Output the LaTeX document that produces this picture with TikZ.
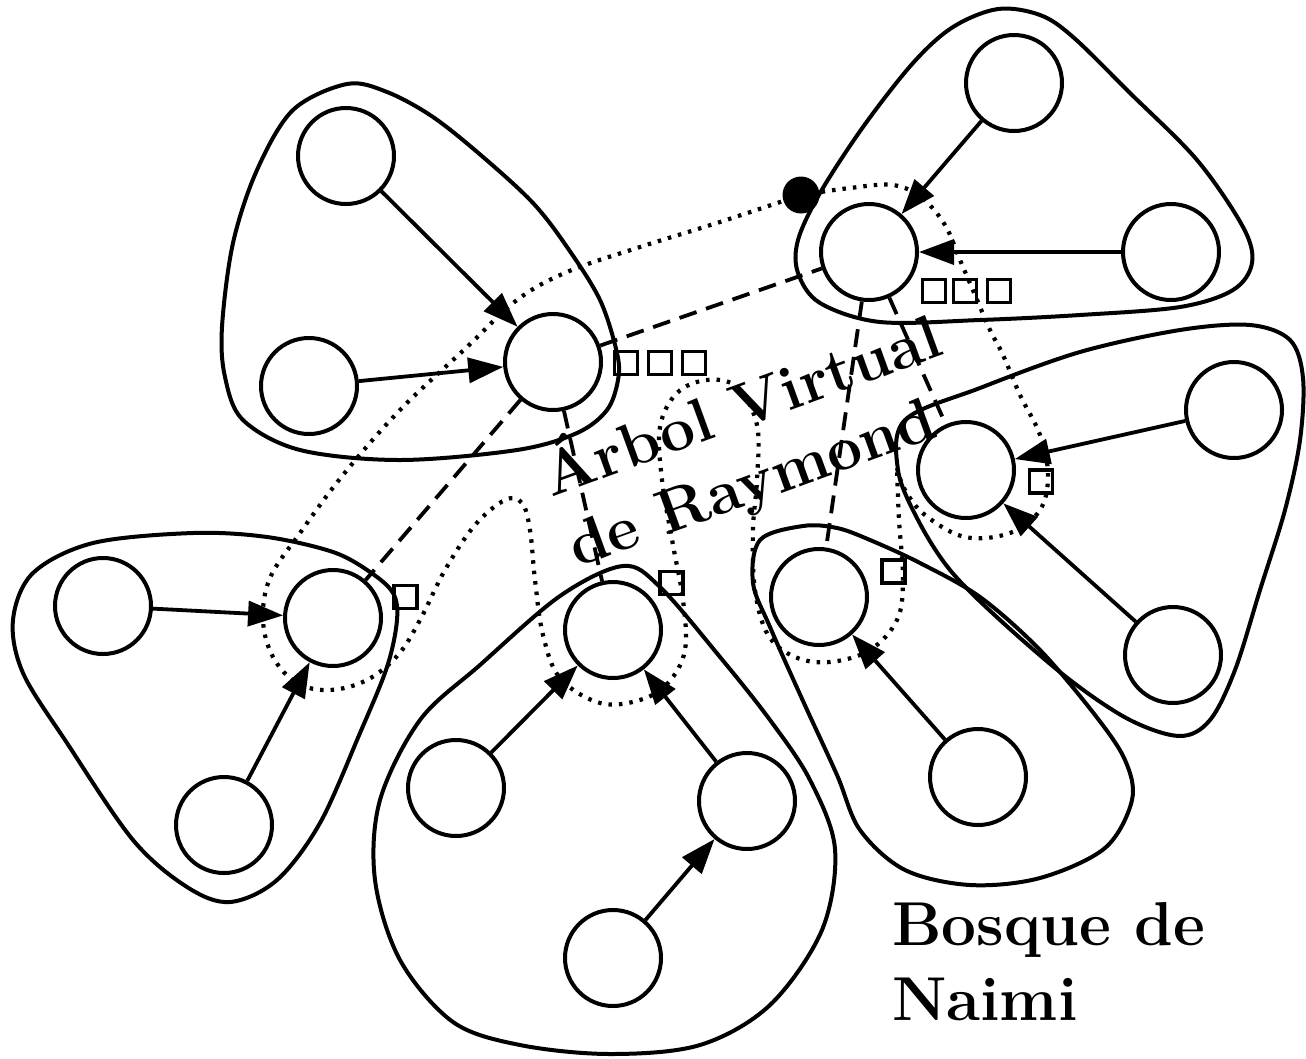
\documentclass[tikz,border=0pt]{standalone}
\usepackage{fontspec}
\usetikzlibrary{arrows.meta}
\begin{document}
\begin{tikzpicture}[x=1pt,y=-1pt,line width=4pt,
  proc/.style={circle,draw,line width=4pt,minimum size=96pt,inner sep=0pt},
  sq/.style={draw,minimum size=23pt,inner sep=0pt,line width=3.6pt},
  arr/.style={line width=3.8pt,-{Triangle[length=35pt,width=25pt]}},
  ray/.style={line width=3.8pt,dash pattern=on 18pt off 10pt},
  tour/.style={line width=4.2pt,dash pattern=on 3.5pt off 7pt},
  blob/.style={line width=4pt},
  lbl/.style={font=\fontsize{62}{75}\selectfont\bfseries,inner sep=0pt}]
\useasboundingbox (0,0) rectangle (1306,1058);

% forest outlines
\draw[blob] plot[smooth cycle,tension=0.55] coordinates {
 (347,84) (387,92) (433,117) (483,157) (533,203) (567,247) (600,300) (617,353)
 (618,380) (607,410) (577,433) (517,450) (400,460) (300,450) (243,420) (225,377)
 (222,327) (233,243) (257,170) (293,110)};
\draw[blob] plot[smooth cycle,tension=0.55] coordinates {
 (998,9) (953,27) (913,63) (863,127) (820,193) (798,240) (798,273) (820,303)
 (880,322) (980,320) (1080,315) (1180,307) (1233,290) (1252,263) (1243,227)
 (1197,160) (1130,93) (1073,37) (1040,15)};
\draw[blob] plot[smooth cycle,tension=0.55] coordinates {
 (905,420) (980,388) (1080,352) (1180,330) (1250,325) (1290,340) (1303,378)
 (1300,440) (1285,510) (1260,590) (1235,670) (1210,720) (1180,736) (1130,720)
 (1070,680) (1000,620) (950,570) (918,520) (898,470)};
\draw[blob] plot[smooth cycle,tension=0.55] coordinates {
 (803,526) (837,528) (870,540) (920,563) (980,597) (1040,650) (1095,715)
 (1125,760) (1132,800) (1105,848) (1040,878) (970,885) (905,870) (860,830)
 (837,775) (803,701) (770,627) (753,583) (760,540)};
\draw[blob] plot[smooth cycle,tension=0.55] coordinates {
 (623,566) (660,587) (720,657) (770,720) (810,780) (835,849) (822,930)
 (770,1005) (700,1045) (610,1054) (520,1045) (453,1022) (400,960) (375,880)
 (380,800) (420,720) (480,665) (560,596)};
\draw[blob] plot[smooth cycle,tension=0.55] coordinates {
 (193,533) (267,537) (333,552) (370,572) (393,593) (397,620) (387,667)
 (360,733) (320,823) (277,880) (230,902) (187,887) (133,840) (67,743)
 (23,673) (13,620) (33,573) (93,543)};

% Euler tour of Raymond's virtual tree
\draw[tour] plot[smooth,tension=0.6] coordinates {
 (801,195) (720,222) (640,247) (567,272) (517,300) (467,347) (400,410) (343,475)
 (300,533) (270,578) (263,620) (273,657) (297,683) (330,690) (367,680) (398,655)
 (420,620) (445,570) (475,525) (505,500) (522,503) (530,530) (535,580) (543,635)
 (560,678) (600,703) (640,700) (668,683) (685,650) (683,600) (673,545) (662,480)
 (660,427) (677,393) (707,380) (737,387) (757,425) (757,480) (753,530) (755,590)
 (768,635) (795,657) (830,662) (870,650) (897,620) (903,580) (899,520) (897,468)};
\draw[tour] plot[smooth,tension=0.6] coordinates {
 (897,468) (905,490) (925,515) (965,537) (1010,533) (1040,510) (1048,475)
 (1040,435) (1020,395) (1003,355) (990,330) (975,295) (960,260) (945,225)
 (922,198) (893,185) (850,188) (801,195)};

% processes
\node[proc] (A1) at (346,156) {};
\node[proc] (A2) at (309,386) {};
\node[proc] (A3) at (553,362) {};
\node[proc] (B1) at (1014,83) {};
\node[proc] (B2) at (869,252) {};
\node[proc] (B3) at (1171,252) {};
\node[proc] (C1) at (1234,410) {};
\node[proc] (C2) at (966,470) {};
\node[proc] (C3) at (1173,655) {};
\node[proc] (D1) at (819,597) {};
\node[proc] (D2) at (978,777) {};
\node[proc] (E1) at (613,630) {};
\node[proc] (E2) at (456,788) {};
\node[proc] (E3) at (747,801) {};
\node[proc] (E4) at (613,958) {};
\node[proc] (F1) at (103,606) {};
\node[proc] (F2) at (333,618) {};
\node[proc] (F3) at (224,825) {};

% Raymond tree edges
\draw[ray] (A3) -- (B2);
\draw[ray] (A3) -- (F2);
\draw[ray] (A3) -- (E1);
\draw[ray] (B2) -- (D1);
\draw[ray] (B2) -- (C2);

% Naimi forest edges
\draw[arr] (A1) -- (A3);
\draw[arr] (A2) -- (A3);
\draw[arr] (B1) -- (B2);
\draw[arr] (B3) -- (B2);
\draw[arr] (C1) -- (C2);
\draw[arr] (C3) -- (C2);
\draw[arr] (D2) -- (D1);
\draw[arr] (E2) -- (E1);
\draw[arr] (E3) -- (E1);
\draw[arr] (E4) -- (E3);
\draw[arr] (F1) -- (F2);
\draw[arr] (F3) -- (F2);

% glyph boxes
\node[sq] (qa1) at (626,363) {};
\node[sq] (qa2) at (660,363) {};
\node[sq] (qa3) at (694,363) {};
\node[sq] (qb1) at (934,291) {};
\node[sq] (qb2) at (965,291) {};
\node[sq] (qb3) at (999,291) {};
\node[sq] (qf) at (405.5,597) {};
\node[sq] (qe) at (671.7,583) {};
\node[sq] (qd) at (893.7,571.3) {};
\node[sq] (qc) at (1041,481.3) {};

% token holder
\node[circle,fill,minimum size=37pt,inner sep=0pt] (tok) at (801,195) {};

% labels
\node[lbl,anchor=base west,rotate=20] (t1) at (550,498) {Árbol Virtual};
\node[lbl,anchor=base west,rotate=20] (t2) at (575.6,568.5) {de Raymond};
\node[lbl,anchor=base west] (t3) at (890,945) {Bosque de};
\node[lbl,anchor=base west] (t4) at (890,1020) {Naimi};
\end{tikzpicture}
\end{document}
